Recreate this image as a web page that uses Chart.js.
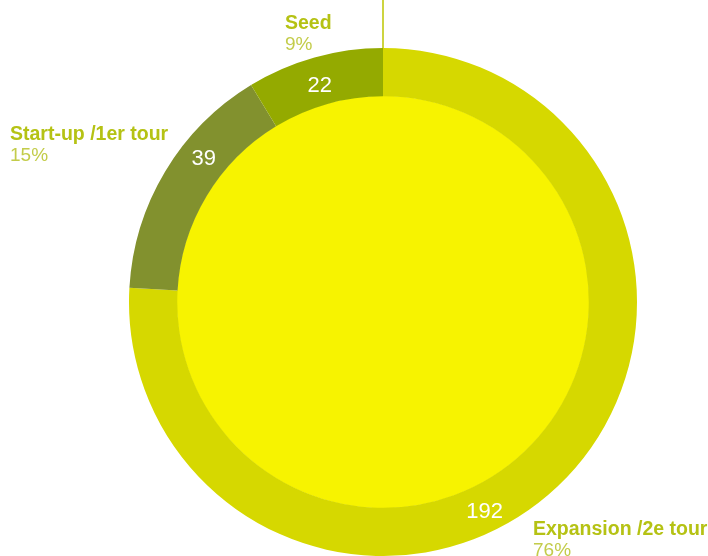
<!DOCTYPE html>
<html>
<head>
<meta charset="utf-8">
<script src="https://cdn.jsdelivr.net/npm/chart.js@4/dist/chart.umd.min.js"></script>
<style>
  body { margin: 0; background: #ffffff; }
  #wrap { width: 708px; height: 556px; position: relative; }
</style>
</head>
<body>
<div id="wrap"><canvas id="chartStades" width="708" height="556"></canvas></div>
<script>
// data
const categories = ["Expansion /2e tour", "Start-up /1er tour", "Seed"];
const values = [192, 39, 22];
const percents = ["76%", "15%", "9%"];

// styling
const sliceColors = ["#d6d800", "#82912e", "#94aa00"];
const innerColor = "#f7f300";
const labelColor = "#b5c214";
const pctColor = "#c3cc4a";
// where along each slice the value sits (0 = start, 1 = end) and how far out
const valueFrac = [0.564, 0.64, 0.48];
const valueRadius = [0.915, 0.905, 0.89];
// outer label anchors, relative to the doughnut centre
const labelOffsets = [[150, 233], [-373, -162], [-98, -273]];

const innerFill = {
  id: "innerFill",
  beforeDatasetsDraw(chart) {
    const arc = chart.getDatasetMeta(0).data[0];
    const ctx = chart.ctx;
    ctx.save();
    ctx.beginPath();
    ctx.arc(arc.x, arc.y, arc.innerRadius + 0.5, 0, Math.PI * 2);
    ctx.fillStyle = innerColor;
    ctx.fill();
    ctx.restore();
  },
};

const sliceLabels = {
  id: "sliceLabels",
  afterDatasetsDraw(chart) {
    const ctx = chart.ctx;
    const arcs = chart.getDatasetMeta(0).data;
    const cx = arcs[0].x;
    const cy = arcs[0].y;
    ctx.save();

    // leader line at the top
    ctx.strokeStyle = "#bcc600";
    ctx.lineWidth = 1.5;
    ctx.beginPath();
    ctx.moveTo(cx, 0);
    ctx.lineTo(cx, cy - arcs[0].outerRadius);
    ctx.stroke();

    arcs.forEach(function (arc, i) {
      const a = arc.startAngle + (arc.endAngle - arc.startAngle) * valueFrac[i];
      const r = arc.outerRadius * valueRadius[i];
      ctx.fillStyle = "#ffffff";
      ctx.font = "22px 'Liberation Sans', Arial, sans-serif";
      ctx.textAlign = "center";
      ctx.textBaseline = "middle";
      ctx.fillText(values[i], cx + r * Math.cos(a), cy + r * Math.sin(a) + 1);

      const lx = cx + labelOffsets[i][0];
      const ly = cy + labelOffsets[i][1];
      ctx.textAlign = "left";
      ctx.textBaseline = "alphabetic";
      ctx.fillStyle = labelColor;
      ctx.font = "bold 19.5px 'Liberation Sans', Arial, sans-serif";
      ctx.fillText(categories[i], lx, ly);
      ctx.fillStyle = pctColor;
      ctx.font = "19px 'Liberation Sans', Arial, sans-serif";
      ctx.fillText(percents[i], lx, ly + 21);
    });
    ctx.restore();
  },
};

new Chart(document.getElementById("chartStades"), {
  type: "doughnut",
  data: {
    labels: categories,
    datasets: [
      {
        data: values,
        backgroundColor: sliceColors,
        borderWidth: 0,
      },
    ],
  },
  options: {
    responsive: false,
    animation: false,
    cutout: "81%",
    layout: {
      padding: { left: 129, right: 71, top: 48, bottom: 0 },
    },
    plugins: {
      legend: { display: false },
      tooltip: { enabled: false },
    },
  },
  plugins: [innerFill, sliceLabels],
});
</script>
</body>
</html>
